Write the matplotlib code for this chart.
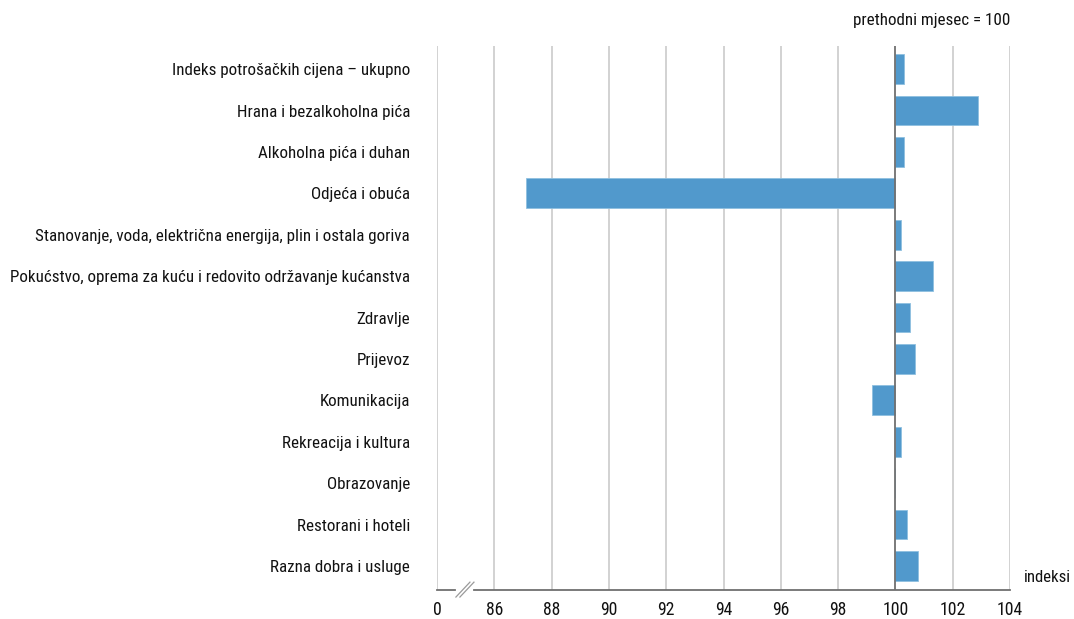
import matplotlib.pyplot as plt
from matplotlib import font_manager

# data
categories = ["Indeks potrošačkih cijena – ukupno", "Hrana i bezalkoholna pića",
              "Alkoholna pića i duhan", "Odjeća i obuća",
              "Stanovanje, voda, električna energija, plin i ostala goriva",
              "Pokućstvo, oprema za kuću i redovito održavanje kućanstva",
              "Zdravlje", "Prijevoz", "Komunikacija", "Rekreacija i kultura",
              "Obrazovanje", "Restorani i hoteli", "Razna dobra i usluge"]
values = [100.3, 102.9, 100.3, 87.1, 100.2, 101.3, 100.5, 100.7, 99.2, 100.2,
          100.0, 100.4, 100.8]
tick_pos = [84, 86, 88, 90, 92, 94, 96, 98, 100, 102, 104]
tick_labels = ["0", "86", "88", "90", "92", "94", "96", "98", "100", "102", "104"]
base = 100

# look for a narrow font, the original uses a condensed sans
files = [f.fname for f in font_manager.fontManager.ttflist]
fpath = None
for key in ["LiberationSansNarrow-Regular", "RobotoCondensed-Regular",
            "DejaVuSansCondensed.ttf", "OpenSans_Condensed-Regular"]:
    for p in files:
        if key in p:
            fpath = p
            break
    if fpath:
        break
if fpath:
    fp = lambda s: font_manager.FontProperties(fname=fpath, size=s)
else:
    fp = lambda s: font_manager.FontProperties(family="Liberation Sans", size=s)

fig = plt.figure(figsize=(10.74, 6.19), dpi=100)
ax = fig.add_axes([437/1074, 1-590/619, (1010-437)/1074, (590-46)/619])

y = list(range(len(categories)))
ax.barh(y, [v - base for v in values], left=base, height=0.72,
        color="#5199cc", edgecolor="#8fc0e0", linewidth=0.6, zorder=3)

ax.set_xlim(84, 104)
ax.set_ylim(12.58, -0.56)
ax.set_xticks(tick_pos)
ax.set_xticklabels(tick_labels)
ax.set_yticks(y)
ax.set_yticklabels(categories)
ax.tick_params(axis='both', length=0, colors="#111111")
ax.tick_params(axis='y', pad=19.5)
ax.tick_params(axis='x', pad=8)

for t in tick_pos:
    if t == base:
        ax.axvline(t, color="#707070", lw=1.3, zorder=4)
    else:
        ax.axvline(t, color="#cfcfcf", lw=1.3, zorder=1)

for s in ax.spines.values():
    s.set_visible(False)

# broken x axis line
yb = 12.58
ax.plot([84, 84.63], [yb, yb], color="#707070", lw=1.3, clip_on=False, zorder=5)
ax.plot([85.29, 104], [yb, yb], color="#707070", lw=1.3, clip_on=False, zorder=5)
ax.plot([84.66, 85.15], [12.75, 12.39], color="#9a9a9a", lw=0.9, clip_on=False)
ax.plot([84.80, 85.29], [12.75, 12.39], color="#9a9a9a", lw=0.9, clip_on=False)

t1 = fig.text(1010/1074, 1-20/619, "prethodni mjesec = 100", ha='right', va='center',
              color="#111111")
t2 = fig.text(1024/1074, 1-578/619, "indeksi", ha='left', va='center',
              color="#111111")

# scale font sizes so text widths match the original
r = fig.canvas.get_renderer()
def fit(txt, target):
    txt.set_fontproperties(fp(12))
    w = txt.get_window_extent(r).width
    txt.set_fontproperties(fp(12 * target / w))

ylabs = ax.get_yticklabels()
fit(ylabs[5], 399)
ysize = ylabs[5].get_fontsize()
for lab in ylabs:
    lab.set_fontproperties(fp(ysize))
xlabs = ax.get_xticklabels()
fit(xlabs[-1], 26)
xsize = xlabs[-1].get_fontsize()
for lab in xlabs:
    lab.set_fontproperties(fp(xsize))
fit(t1, 157)
fit(t2, 47)

fig.savefig("out.png", dpi=100)
